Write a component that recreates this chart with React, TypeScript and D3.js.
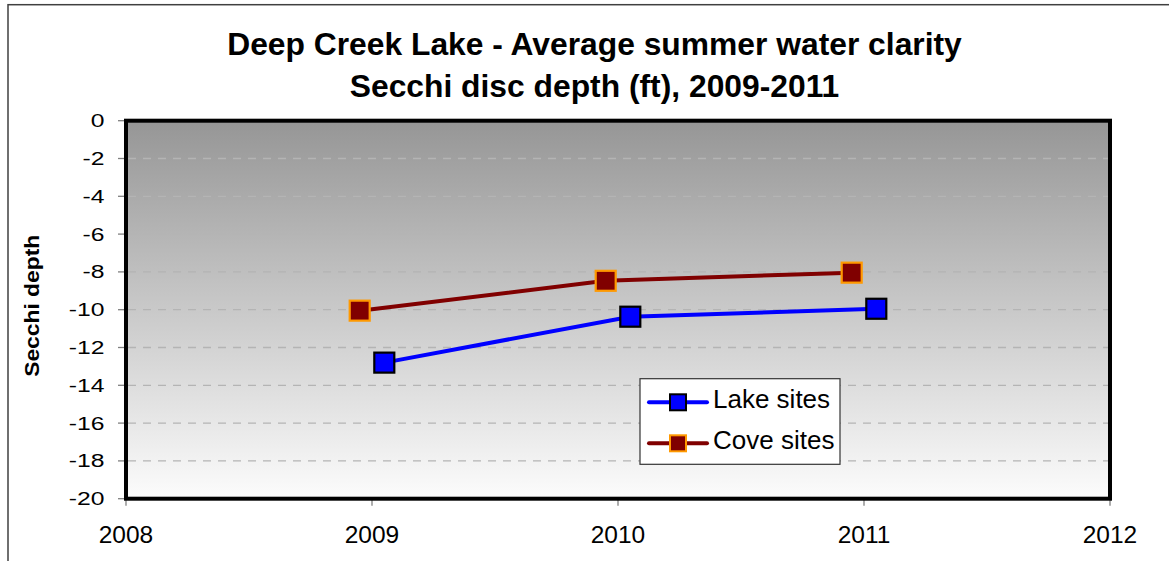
import React from "react";
import * as d3 from "d3";

// Average summer Secchi depth (ft, negative = below surface)
const lakeYears = [2009.05, 2010.05, 2011.05];
const lakeDepth = [-12.8, -10.37, -9.95];
const coveYears = [2008.95, 2009.95, 2010.95];
const coveDepth = [-10.05, -8.47, -8.04];

const xTicks = [2008, 2009, 2010, 2011, 2012];
const yTicks = [0, -2, -4, -6, -8, -10, -12, -14, -16, -18, -20];

const titleLines = [
  "Deep Creek Lake - Average summer water clarity",
  "Secchi disc depth (ft), 2009-2011",
];
const yTitle = "Secchi depth";
const seriesNames = ["Lake sites", "Cove sites"];

const W = 1169;
const H = 561;
const FONT = "'Liberation Sans', Arial, Helvetica, sans-serif";

export default function App() {
  const left = 126;
  const right = 1110;
  const top = 120.7;
  const bottom = 498.7;

  const x = d3.scaleLinear().domain([2008, 2012]).range([left, right]);
  const y = d3.scaleLinear().domain([-20, 0]).range([bottom, top]);

  const line = d3
    .line<[number, number]>()
    .x((d) => x(d[0]))
    .y((d) => y(d[1]));

  const lake: [number, number][] = lakeYears.map((v, i) => [v, lakeDepth[i]]);
  const cove: [number, number][] = coveYears.map((v, i) => [v, coveDepth[i]]);

  const series = [
    { name: seriesNames[0], pts: lake, line: "#0000ff", fill: "#0000ff", edge: "#000000" },
    { name: seriesNames[1], pts: cove, line: "#800000", fill: "#800000", edge: "#ff9900" },
  ];

  const mk = 20;
  const legend = { x0: 640, y0: 378.7, w: 200, h: 85.6 };
  const legendRows = [402.3, 443.3];

  return (
    <svg
      width={W}
      height={H}
      style={{ position: "absolute", left: 0, top: 0, background: "#ffffff" }}
      fontFamily={FONT}
    >
      <defs>
        <linearGradient id="plotBg" x1="0" y1="0" x2="0" y2="1">
          <stop offset="0%" stopColor="#969696" />
          <stop offset="100%" stopColor="#fcfcfc" />
        </linearGradient>
      </defs>

      {/* outer chart frame */}
      <rect x={8} y={4.7} width={1300} height={700} fill="#ffffff" stroke="#404040" strokeWidth={1.5} />

      {/* title */}
      {titleLines.map((t, i) => (
        <text
          key={t}
          x={594.5}
          y={55 + i * 42}
          textAnchor="middle"
          fontWeight="bold"
          fontSize={31.8}
          fill="#000"
        >
          {t}
        </text>
      ))}

      {/* plot background */}
      <rect x={left} y={top} width={right - left} height={bottom - top} fill="url(#plotBg)" />

      {/* gridlines */}
      {yTicks
        .filter((t) => t !== 0 && t !== -20)
        .map((t) => (
          <line
            key={"g" + t}
            x1={left + 2}
            x2={right - 2}
            y1={y(t)}
            y2={y(t)}
            stroke="#b4b4b4"
            strokeWidth={1.3}
            strokeDasharray="8,7"
          />
        ))}

      {/* y ticks & labels */}
      {yTicks.map((t) => (
        <g key={"y" + t}>
          <line x1={118} x2={left} y1={y(t)} y2={y(t)} stroke="#808080" strokeWidth={1.3} />
          <text
            transform={`translate(104.5, ${y(t) + 6.5}) scale(1.3, 1)`}
            textAnchor="end"
            fontSize={19}
            fill="#000"
          >
            {t}
          </text>
        </g>
      ))}

      {/* x ticks & labels */}
      {xTicks.map((t) => (
        <g key={"x" + t}>
          <line x1={x(t)} x2={x(t)} y1={bottom} y2={bottom + 7} stroke="#808080" strokeWidth={1.3} />
          <text x={x(t)} y={542.7} textAnchor="middle" fontSize={24.5} fill="#000">
            {t}
          </text>
        </g>
      ))}

      {/* y axis title */}
      <text
        transform={`translate(38.7, 305.8) rotate(-90)`}
        textAnchor="middle"
        fontWeight="bold"
        fontSize={19.5}
        textLength={142}
        lengthAdjust="spacingAndGlyphs"
        fill="#000"
      >
        {yTitle}
      </text>

      {/* series lines and markers */}
      {series.map((s) => (
        <g key={s.name}>
          <path d={line(s.pts) || ""} fill="none" stroke={s.line} strokeWidth={4} />
          {s.pts.map((p, i) => (
            <rect
              key={i}
              x={x(p[0]) - mk / 2}
              y={y(p[1]) - mk / 2}
              width={mk}
              height={mk}
              fill={s.fill}
              stroke={s.edge}
              strokeWidth={2.2}
            />
          ))}
        </g>
      ))}

      {/* plot border */}
      <rect
        x={left}
        y={top}
        width={right - left}
        height={bottom - top}
        fill="none"
        stroke="#000"
        strokeWidth={4}
      />

      {/* legend */}
      <rect
        x={legend.x0}
        y={legend.y0}
        width={legend.w}
        height={legend.h}
        fill="#ffffff"
        stroke="#333"
        strokeWidth={1.2}
      />
      {series.map((s, i) => (
        <g key={"lg" + s.name}>
          <line
            x1={649}
            x2={707}
            y1={legendRows[i]}
            y2={legendRows[i]}
            stroke={s.line}
            strokeWidth={4}
            strokeLinecap="round"
          />
          <rect
            x={678 - 8}
            y={legendRows[i] - 8}
            width={16}
            height={16}
            fill={s.fill}
            stroke={s.edge}
            strokeWidth={2}
          />
          <text x={713} y={legendRows[i] + 6} fontSize={26} fill="#000">
            {s.name}
          </text>
        </g>
      ))}
    </svg>
  );
}
